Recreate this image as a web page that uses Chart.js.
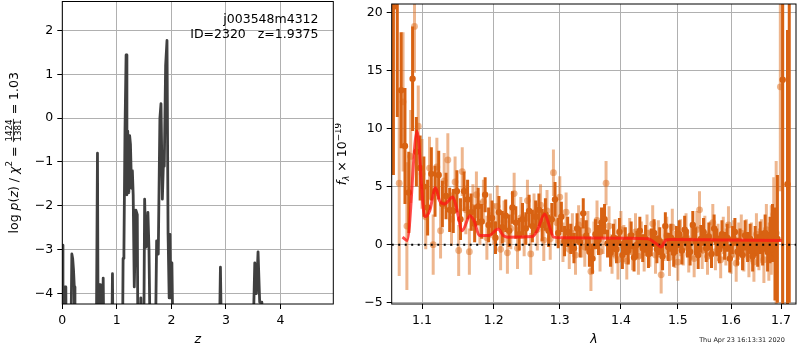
<!DOCTYPE html>
<html><head><meta charset="utf-8">
<script src="https://cdn.jsdelivr.net/npm/chart.js@4.4.1/dist/chart.umd.min.js"></script>
<style>
html,body{margin:0;padding:0;background:#fff;width:800px;height:350px;overflow:hidden}
canvas{position:absolute;top:0}
#c1{left:0}
#c2{left:335px}
</style></head><body>
<canvas id="c1" width="335" height="350"></canvas>
<canvas id="c2" width="465" height="350"></canvas>
<script>
// ---------------- data: left panel (redshift PDF) ----------------
const zGrid = [0.000,0.012,0.040,0.050,0.065,0.075,0.150,0.175,0.190,0.205,0.220,0.232,0.620,0.645,0.660,0.685,0.700,0.720,0.735,0.750,0.770,0.900,0.920,0.935,1.100,1.115,1.130,1.150,1.170,1.185,1.200,1.220,1.235,1.250,1.270,1.285,1.300,1.320,1.350,1.375,1.390,1.420,1.440,1.460,1.490,1.510,1.530,1.550,1.570,1.590,1.620,1.700,1.730,1.760,1.790,1.810,1.835,1.860,1.870,1.895,1.920,1.940,1.960,1.975,1.990,2.010,2.040,2.870,2.900,2.930,3.480,3.530,3.560,3.590,3.620,3.660,3.680,4.970];
const logPz = [-2.9,-6,-6,-3.85,-3.9,-6,-6,-3.1,-3.2,-3.45,-3.85,-6,-6,-0.8,-6,-3.8,-3.8,-6,-6,-3.65,-6,-6,-3.55,-6,-6,-3.2,-3.05,-0.25,1.44,-1.75,-0.3,-1.7,-0.4,-0.6,-1.6,-1.2,-1.75,-3.85,-2.1,-2.2,-6,-6,-4.1,-6,-6,-1.85,-2.95,-2.9,-2.15,-3.0,-6,-6,-2.8,-3.1,0.0,0.33,-1.85,-0.8,-1.1,1.2,1.77,-2.65,-4.1,-2.65,-4.1,-3.3,-6,-6,-3.4,-6,-6,-3.3,-4.0,-3.05,-4.2,-4.2,-6,-6];
const zTicks = [0,1,2,3,4];
const logPTicks = [-4,-3,-2,-1,0,1,2];

// ---------------- data: right panel (spectrum) ----------------
const darkLam = [1.0625,1.0675,1.0725,1.0775,1.0825,1.0875,1.0925,1.0975,1.1025,1.1075,
1.1125,1.1175,1.1225,1.1275,1.1325,1.1375,1.1425,1.1475,1.1525,1.1575,
1.1625,1.1675,1.1725,1.1775,1.1825,1.1875,1.1925,1.1975,1.2025,1.2075,
1.2125,1.2175,1.2225,1.2275,1.2325,1.2375,1.2425,1.2475,1.2525,1.2575,
1.2625,1.2675,1.2725,1.2775,1.2825,1.2875,1.2925,1.2975,1.3025,1.3075,
1.3125,1.3175,1.3225,1.3275,1.3325,1.3375,1.3425,1.3475,1.3525,1.3575,
1.3625,1.3675,1.3725,1.3775,1.3825,1.3875,1.3925,1.3975,1.4025,1.4075,
1.4125,1.4175,1.4225,1.4275,1.4325,1.4375,1.4425,1.4475,1.4525,1.4575,
1.4625,1.4675,1.4725,1.4775,1.4825,1.4875,1.4925,1.4975,1.5025,1.5075,
1.5125,1.5175,1.5225,1.5275,1.5325,1.5375,1.5425,1.5475,1.5525,1.5575,
1.5625,1.5675,1.5725,1.5775,1.5825,1.5875,1.5925,1.5975,1.6025,1.6075,
1.6125,1.6175,1.6225,1.6275,1.6325,1.6375,1.6425,1.6475,1.6525,1.6575,
1.6625,1.6675,1.6725,1.6775,1.6825,1.6875,1.6925,1.7034,1.7133,1.7170];
const darkFlux = [20.5,22,13.3,8.5,4.5,14.3,8.0,6.6,5.0,3.2,
6.1,4.6,6.0,3.5,4.2,3.0,2.9,4.6,2.2,4.6,
3.9,2.8,1.8,3.3,2.0,4.3,1.7,2.3,0.6,2.8,
1.5,2.5,1.2,3.2,1.9,0.9,2.2,1.4,2.9,1.6,
2.4,3.0,1.7,2.6,1.2,2.2,3.9,1.0,2.4,0.3,
1.1,0.5,-0.3,1.4,0.2,2.7,0.8,-0.6,-1.2,0.9,
0.4,1.9,2.2,0.1,-0.7,0.6,-0.4,1.1,-0.9,0.3,
-0.5,0.8,-1.1,0.0,1.2,-0.3,0.5,-0.8,0.2,1.0,
-0.4,0.3,-1.0,1.6,-0.2,0.6,-0.7,0.4,0.9,-0.5,
1.3,0.1,-0.6,1.7,0.3,-0.9,0.5,1.1,-0.3,0.7,
-0.8,1.4,0.2,-0.4,0.9,-0.1,0.6,-1.2,0.4,1.1,
-0.6,0.2,-0.9,0.8,-0.2,0.5,-1.0,0.3,-0.5,0.6,
-0.3,1.0,-0.6,0.4,1.0,-0.8,0.5,14.2,5.2,25];
const darkErr = [14.5,11,5,5,3.5,4.5,3,2.8,2.6,2.4,
2.3,2.2,2.1,2.0,2.0,1.9,1.9,1.8,1.8,1.7,
1.7,1.6,1.6,1.6,1.5,1.5,1.5,1.5,1.4,1.4,
1.4,1.4,1.4,1.4,1.4,1.4,1.4,1.4,1.4,1.4,
1.4,1.4,1.4,1.4,1.4,1.4,1.5,1.3,1.3,1.3,
1.3,1.3,1.3,1.3,1.3,1.3,1.3,1.3,1.3,1.3,
1.3,1.3,1.3,1.2,1.2,1.2,1.2,1.2,1.2,1.2,
1.2,1.2,1.2,1.2,1.2,1.2,1.2,1.2,1.2,1.2,
1.2,1.2,1.2,1.2,1.2,1.2,1.2,1.2,1.2,1.2,
1.2,1.2,1.2,1.2,1.2,1.2,1.2,1.2,1.2,1.2,
1.2,1.2,1.2,1.2,1.2,1.2,1.2,1.2,1.2,1.2,
1.2,1.2,1.3,1.3,1.3,1.3,1.3,1.3,1.4,1.4,
1.5,1.6,1.7,2.0,2.5,4.0,5.5,22,13.3,30];

const lightLam = [1.070,1.075,1.080,1.085,1.090,1.095,1.100,1.105,1.110,1.115,
1.120,1.125,1.130,1.135,1.140,1.145,1.150,1.155,1.160,1.165,
1.170,1.175,1.180,1.185,1.190,1.195,1.200,1.205,1.210,1.215,
1.220,1.225,1.230,1.235,1.240,1.245,1.250,1.255,1.260,1.265,
1.270,1.275,1.280,1.285,1.290,1.295,1.300,1.305,1.310,1.315,
1.320,1.325,1.330,1.335,1.340,1.345,1.350,1.355,1.360,1.365,
1.370,1.375,1.380,1.385,1.390,1.395,1.400,1.405,1.410,1.415,
1.420,1.425,1.430,1.435,1.440,1.445,1.450,1.455,1.460,1.465,
1.470,1.475,1.480,1.485,1.490,1.495,1.500,1.505,1.510,1.515,
1.520,1.525,1.530,1.535,1.540,1.545,1.550,1.555,1.560,1.565,
1.570,1.575,1.580,1.585,1.590,1.595,1.600,1.605,1.610,1.615,
1.620,1.625,1.630,1.635,1.640,1.645,1.650,1.655,1.660,1.665,
1.670,1.675,1.680,1.685,1.690,1.6985];
const lightFlux = [5.3,12.3,1.6,7.6,18.8,10.2,6.1,2.4,6.6,0.0,
6.7,1.2,5.5,7.3,2.2,5.4,-0.5,6.3,3.0,-0.6,
3.2,4.3,1.9,3.7,0.6,2.5,1.8,3.3,-0.4,2.0,
-0.7,1.4,4.4,-0.3,2.3,0.8,3.8,-0.8,2.6,1.3,
3.4,0.4,2.9,0.5,6.2,1.9,4.1,0.2,2.8,-0.4,
1.0,-0.9,1.7,0.6,-0.2,1.2,-2.3,0.3,2.1,-0.6,
0.9,5.3,1.6,-0.8,0.5,-1.3,1.3,0.1,-1.4,0.7,
-0.6,1.1,-1.0,0.4,-0.7,1.0,-0.3,1.8,-0.9,0.5,
-2.6,0.2,0.8,-1.1,1.5,-0.4,-1.5,0.6,-0.2,1.1,
-0.8,0.3,-1.2,1.3,3.0,-0.5,0.9,-1.0,0.4,1.9,
-0.6,0.2,-1.3,0.8,-0.2,1.7,-0.9,0.5,-1.6,0.3,
1.0,-0.7,0.6,-1.1,0.2,-1.5,0.9,-0.4,0.3,-1.3,
1.3,-0.6,0.4,2.6,1.0,13.6];
const lightErr = [8,6,5.5,4,4,3.5,3,2.8,2.7,2.6,
2.5,2.4,2.4,2.3,2.3,2.2,2.2,2.1,2.1,2.0,
2.0,2.0,1.9,1.9,1.9,1.9,1.8,1.8,1.8,1.8,
1.8,1.8,1.8,1.8,1.8,1.8,1.8,1.8,1.8,1.8,
1.8,1.8,1.8,1.8,2.0,1.8,1.8,1.7,1.7,1.7,
1.7,1.7,1.7,1.7,1.7,1.7,1.7,1.7,1.7,1.7,
1.7,1.9,1.7,1.7,1.7,1.7,1.6,1.6,1.6,1.6,
1.6,1.6,1.6,1.6,1.6,1.6,1.6,1.6,1.6,1.6,
1.6,1.6,1.6,1.6,1.6,1.6,1.6,1.6,1.6,1.6,
1.6,1.6,1.6,1.6,1.6,1.6,1.6,1.6,1.6,1.6,
1.6,1.6,1.6,1.6,1.6,1.6,1.6,1.6,1.6,1.6,
1.6,1.6,1.6,1.7,1.7,1.7,1.8,1.8,1.9,2.0,
2.2,2.5,3.0,3.2,6.2,9];

const modelLam = [1.0743,1.0803,1.0934,1.1036,1.1102,1.1182,1.1236,1.1304,1.1418,1.1465,1.1548,1.1660,1.1720,1.1791,1.1933,1.2063,1.2136,1.2199,1.2572,1.2648,1.2764,1.2826,1.2904,1.3034,1.4121,1.4464,1.4609,1.4697,1.4786,1.4876,1.5924,1.7014];
const modelFlux = [0.65,0.37,9.8,2.4,2.9,4.9,3.8,3.5,4.1,3.3,1.2,2.5,2.0,0.8,0.8,1.35,0.8,0.65,0.7,1.2,2.65,1.8,0.65,0.6,0.55,0.5,0.1,-0.2,0.4,0.45,0.4,0.35];
const zeroLevel = [0];
const lamTicks = [1.1,1.2,1.3,1.4,1.5,1.6,1.7];
const fluxTicks = [-5,0,5,10,15,20];

// ---------------- helpers ----------------
const F = 12.5;
const FAM = "'DejaVu Sans'";
const fnt = (s, it) => (it ? 'italic ' : '') + s + 'px ' + FAM;
const minusFmt = v => (v < 0 ? '\u2212' + Math.abs(v) : String(v));

function drawRuns(ctx, runs, baseY) {
  let total = 0;
  runs.forEach(r => {
    ctx.font = r.font;
    r.w = r.frac ? Math.max(ctx.measureText(r.num).width, ctx.measureText(r.den).width) + 2 : ctx.measureText(r.t).width;
    total += r.w;
  });
  let x = -total / 2;
  ctx.textBaseline = 'alphabetic';
  runs.forEach(r => {
    ctx.font = r.font;
    if (r.frac) {
      const bar = baseY - 0.33 * F;
      ctx.textAlign = 'center';
      ctx.fillText(r.num, x + r.w / 2, bar - 1.3);
      ctx.fillText(r.den, x + r.w / 2, bar + 1.4 + 0.73 * 0.7 * F);
      ctx.fillRect(x + 0.5, bar - 0.4, r.w - 1, 0.8);
      ctx.textAlign = 'left';
    } else {
      ctx.textAlign = 'left';
      ctx.fillText(r.t, x, baseY + (r.dy || 0));
    }
    x += r.w;
  });
}

const frame = {
  id: 'frame',
  afterDatasetsDraw(chart) {
    const {ctx, chartArea: a} = chart;
    ctx.save();
    ctx.strokeStyle = '#000';
    ctx.lineWidth = 1;
    ctx.strokeRect(a.left, a.top, a.right - a.left, a.bottom - a.top);
    ctx.restore();
  }
};

function scaleOpts(min, max, tickVals, fmt, extra) {
  return Object.assign({
    min, max,
    bounds: 'data',
    afterBuildTicks: s => { s.ticks = tickVals.map(v => ({value: v})); },
    grid: {color: '#b0b0b0', lineWidth: 1, tickColor: '#000', tickLength: 5, tickWidth: 1},
    border: {display: false},
    ticks: {color: '#000', font: {family: 'DejaVu Sans', size: F}, padding: 4, maxRotation: 0, autoSkip: false, callback: fmt}
  }, extra);
}
const xFit = h => s => { s.height = h; s.paddingLeft = 0; s.paddingRight = 0; };
const yFit = w => s => { s.width = w; s.paddingTop = 0; s.paddingBottom = 0; };

// ---------------- left chart ----------------
const leftText = {
  id: 'leftText',
  afterDraw(chart) {
    const {ctx, chartArea: a} = chart;
    ctx.save();
    ctx.fillStyle = '#000';
    ctx.font = fnt(F);
    ctx.textAlign = 'right';
    ctx.textBaseline = 'middle';
    ctx.fillText('j003548m4312', 318.5, 20);
    ctx.fillText('ID=2320   z=1.9375', 318.5, 34.5);
    ctx.textAlign = 'center';
    ctx.font = fnt(F, true);
    ctx.fillText('z', (a.left + a.right) / 2, 340);
    ctx.translate(13, (a.top + a.bottom) / 2);
    ctx.rotate(-Math.PI / 2);
    drawRuns(ctx, [
      {t: 'log ', font: fnt(F)},
      {t: 'p', font: fnt(F, true)},
      {t: '(', font: fnt(F)},
      {t: 'z', font: fnt(F, true)},
      {t: ') / ', font: fnt(F)},
      {t: '\u03c7', font: fnt(F, true)},
      {t: '2', font: fnt(0.7 * F), dy: -0.42 * F},
      {t: ' = ', font: fnt(F)},
      {frac: true, num: '1424', den: '1381', font: fnt(0.7 * F)},
      {t: ' = 1.03', font: fnt(F)}
    ], 4.5);
    ctx.restore();
  }
};

new Chart(document.getElementById('c1'), {
  type: 'scatter',
  data: {
    datasets: [{
      data: zGrid.map((z, i) => ({x: z, y: logPz[i]})),
      showLine: true,
      pointRadius: 0,
      borderColor: '#404040',
      borderWidth: 2.8,
      borderJoinStyle: 'round',
      tension: 0
    }]
  },
  options: {
    responsive: false,
    animation: false,
    events: [],
    layout: {padding: {left: 0, top: 1.5, right: 1.7, bottom: 0}},
    plugins: {legend: {display: false}, tooltip: {enabled: false}},
    scales: {
      x: scaleOpts(0, 4.97, zTicks, v => String(v), {afterFit: xFit(46)}),
      y: scaleOpts(-4.24, 2.66, logPTicks, minusFmt, {afterFit: yFit(62.3)})
    }
  },
  plugins: [frame, leftText]
});

// ---------------- right chart ----------------
function errSegments(lam, flux, err) {
  const out = [];
  lam.forEach((x, i) => {
    out.push({x, y: flux[i] - err[i]}, {x, y: flux[i] + err[i]}, {x, y: null});
  });
  return out;
}
const LAM_MIN = 1.0603, LAM_MAX = 1.7311;
const DARK = 'rgb(216,98,18)';
const LIGHT = 'rgba(222,110,30,0.5)';

const rightText = {
  id: 'rightText',
  afterDraw(chart) {
    const {ctx, chartArea: a} = chart;
    ctx.save();
    ctx.fillStyle = '#000';
    ctx.textAlign = 'center';
    ctx.textBaseline = 'middle';
    ctx.font = fnt(F, true);
    ctx.fillText('\u03bb', (a.left + a.right) / 2, 340);
    ctx.font = fnt(6.5);
    ctx.fillStyle = '#222';
    ctx.fillText('Thu Apr 23 16:13:31 2020', 407, 340);
    ctx.fillStyle = '#000';
    ctx.translate(6.5, (a.top + a.bottom) / 2);
    ctx.rotate(-Math.PI / 2);
    drawRuns(ctx, [
      {t: 'f', font: fnt(F, true)},
      {t: '\u03bb', font: fnt(0.7 * F, true), dy: 0.22 * F},
      {t: ' \u00d7 10', font: fnt(F)},
      {t: '\u221219', font: fnt(0.7 * F), dy: -0.42 * F}
    ], 4.5);
    ctx.restore();
  }
};

new Chart(document.getElementById('c2'), {
  type: 'scatter',
  data: {
    datasets: [
      {
        order: 0,
        data: modelLam.map((x, i) => ({x, y: modelFlux[i]})),
        showLine: true, pointRadius: 0,
        borderColor: 'rgba(255,20,20,0.75)', borderWidth: 3,
        cubicInterpolationMode: 'monotone'
      },
      {
        order: 1,
        data: [{x: LAM_MIN, y: zeroLevel[0]}, {x: LAM_MAX, y: zeroLevel[0]}],
        showLine: true, pointRadius: 0,
        borderColor: '#000', borderWidth: 2, borderDash: [2, 4.5]
      },
      {
        order: 2,
        data: darkLam.map((x, i) => ({x, y: darkFlux[i]})),
        pointRadius: 3.2, pointBorderWidth: 0, backgroundColor: DARK, borderColor: DARK
      },
      {
        order: 3,
        data: errSegments(darkLam, darkFlux, darkErr),
        showLine: true, spanGaps: false, pointRadius: 0,
        borderColor: DARK, borderWidth: 3
      },
      {
        order: 4,
        data: lightLam.map((x, i) => ({x, y: lightFlux[i]})),
        pointRadius: 3.4, pointBorderWidth: 0, backgroundColor: LIGHT, borderColor: LIGHT
      },
      {
        order: 5,
        data: errSegments(lightLam, lightFlux, lightErr),
        showLine: true, spanGaps: false, pointRadius: 0,
        borderColor: LIGHT, borderWidth: 3
      }
    ]
  },
  options: {
    responsive: false,
    animation: false,
    events: [],
    layout: {padding: {left: 0, top: 1.7, right: 0.7, bottom: 0}},
    plugins: {legend: {display: false}, tooltip: {enabled: false}},
    scales: {
      x: scaleOpts(LAM_MIN, LAM_MAX, lamTicks, v => Number(v).toFixed(1), {type: 'logarithmic', afterFit: xFit(46)}),
      y: scaleOpts(-5.11, 20.73, fluxTicks, minusFmt, {afterFit: yFit(56.7)})
    }
  },
  plugins: [frame, rightText]
});
</script>
</body></html>
